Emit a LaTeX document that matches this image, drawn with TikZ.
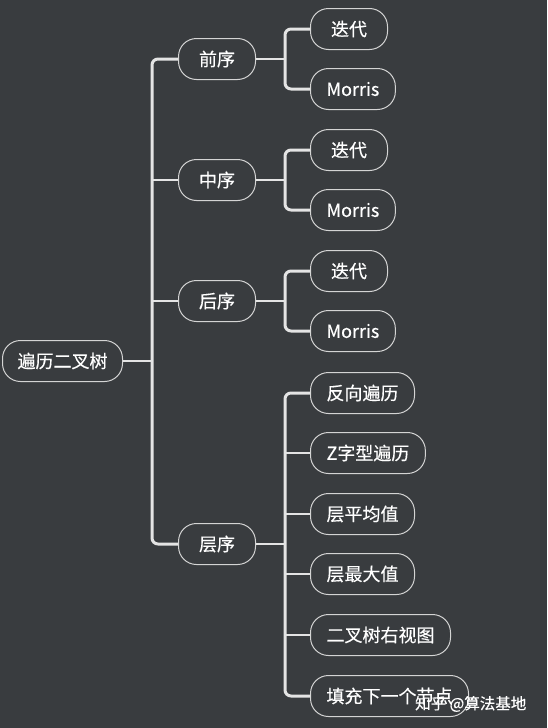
\documentclass[tikz,border=0pt]{standalone}
\usepackage{fontspec}
\setmainfont{Noto Sans CJK SC}[FakeBold=0.4]
\definecolor{bg}{HTML}{393C3F}
\definecolor{nodeline}{HTML}{D4D4D4}
\definecolor{connline}{HTML}{E4E4E4}
\begin{document}
\begin{tikzpicture}[x=1pt,y=-1pt]
\tikzset{
  box/.style={draw=nodeline, line width=1pt, rounded corners=18pt,
    minimum height=41pt, minimum width=77pt, inner xsep=16pt,
    text=white, font=\fontsize{18}{21}\selectfont, anchor=west},
  conn/.style={draw=connline, line width=2.5pt},
  trunk/.style={draw=connline, line width=3pt, rounded corners=6pt}
}
\useasboundingbox (0,0) rectangle (547,728);
\fill[bg] (0,0) rectangle (547,728);
% root
\node[box, inner xsep=15pt] (root) at (2,361) {遍历二叉树};
% level 1
\node[box] (pre) at (178,59) {前序};
\node[box] (in) at (178,180) {中序};
\node[box] (post) at (178,301) {后序};
\node[box] (lvl) at (178,544) {层序};
% level 2
\node[box] (pre1) at (310,29) {迭代};
\node[box] (pre2) at (310,89) {Morris};
\node[box] (in1) at (310,150) {迭代};
\node[box] (in2) at (310,210) {Morris};
\node[box] (post1) at (310,271) {迭代};
\node[box] (post2) at (310,331) {Morris};
\node[box] (l1) at (310,393) {反向遍历};
\node[box] (l2) at (310,453) {Z字型遍历};
\node[box] (l3) at (310,514) {层平均值};
\node[box] (l4) at (310,574) {层最大值};
\node[box] (l5) at (310,635) {二叉树右视图};
\node[box] (l6) at (310,696) {填充下一个节点};
% connectors: root
\path (pre.west |- root.east) ++(-26pt,0) coordinate (t0);
\draw[conn] (root.east) -- (t0);
\draw[trunk] (pre.west) -| (t0) |- (lvl.west);
\draw[conn] (in.west) -| (t0);
\draw[conn] (post.west) -| (t0);
% pre
\coordinate (t1) at ([xshift=29pt]pre.east);
\draw[conn] (pre.east) -- (t1);
\draw[trunk] (pre1.west) -| (t1) |- (pre2.west);
% in
\coordinate (t2) at ([xshift=29pt]in.east);
\draw[conn] (in.east) -- (t2);
\draw[trunk] (in1.west) -| (t2) |- (in2.west);
% post
\coordinate (t3) at ([xshift=29pt]post.east);
\draw[conn] (post.east) -- (t3);
\draw[trunk] (post1.west) -| (t3) |- (post2.west);
% level order
\coordinate (t4) at ([xshift=29pt]lvl.east);
\draw[conn] (lvl.east) -- (t4);
\draw[trunk] (l1.west) -| (t4) |- (l6.west);
\foreach \c in {l2,l3,l4,l5}
  \draw[conn] (\c.west) -| (t4);
% watermark
\node[anchor=west, text=white, font=\fontsize{15.5}{18}\selectfont, inner sep=0pt] (wm) at (415,704) {知乎 @算法基地};
\end{tikzpicture}
\end{document}
